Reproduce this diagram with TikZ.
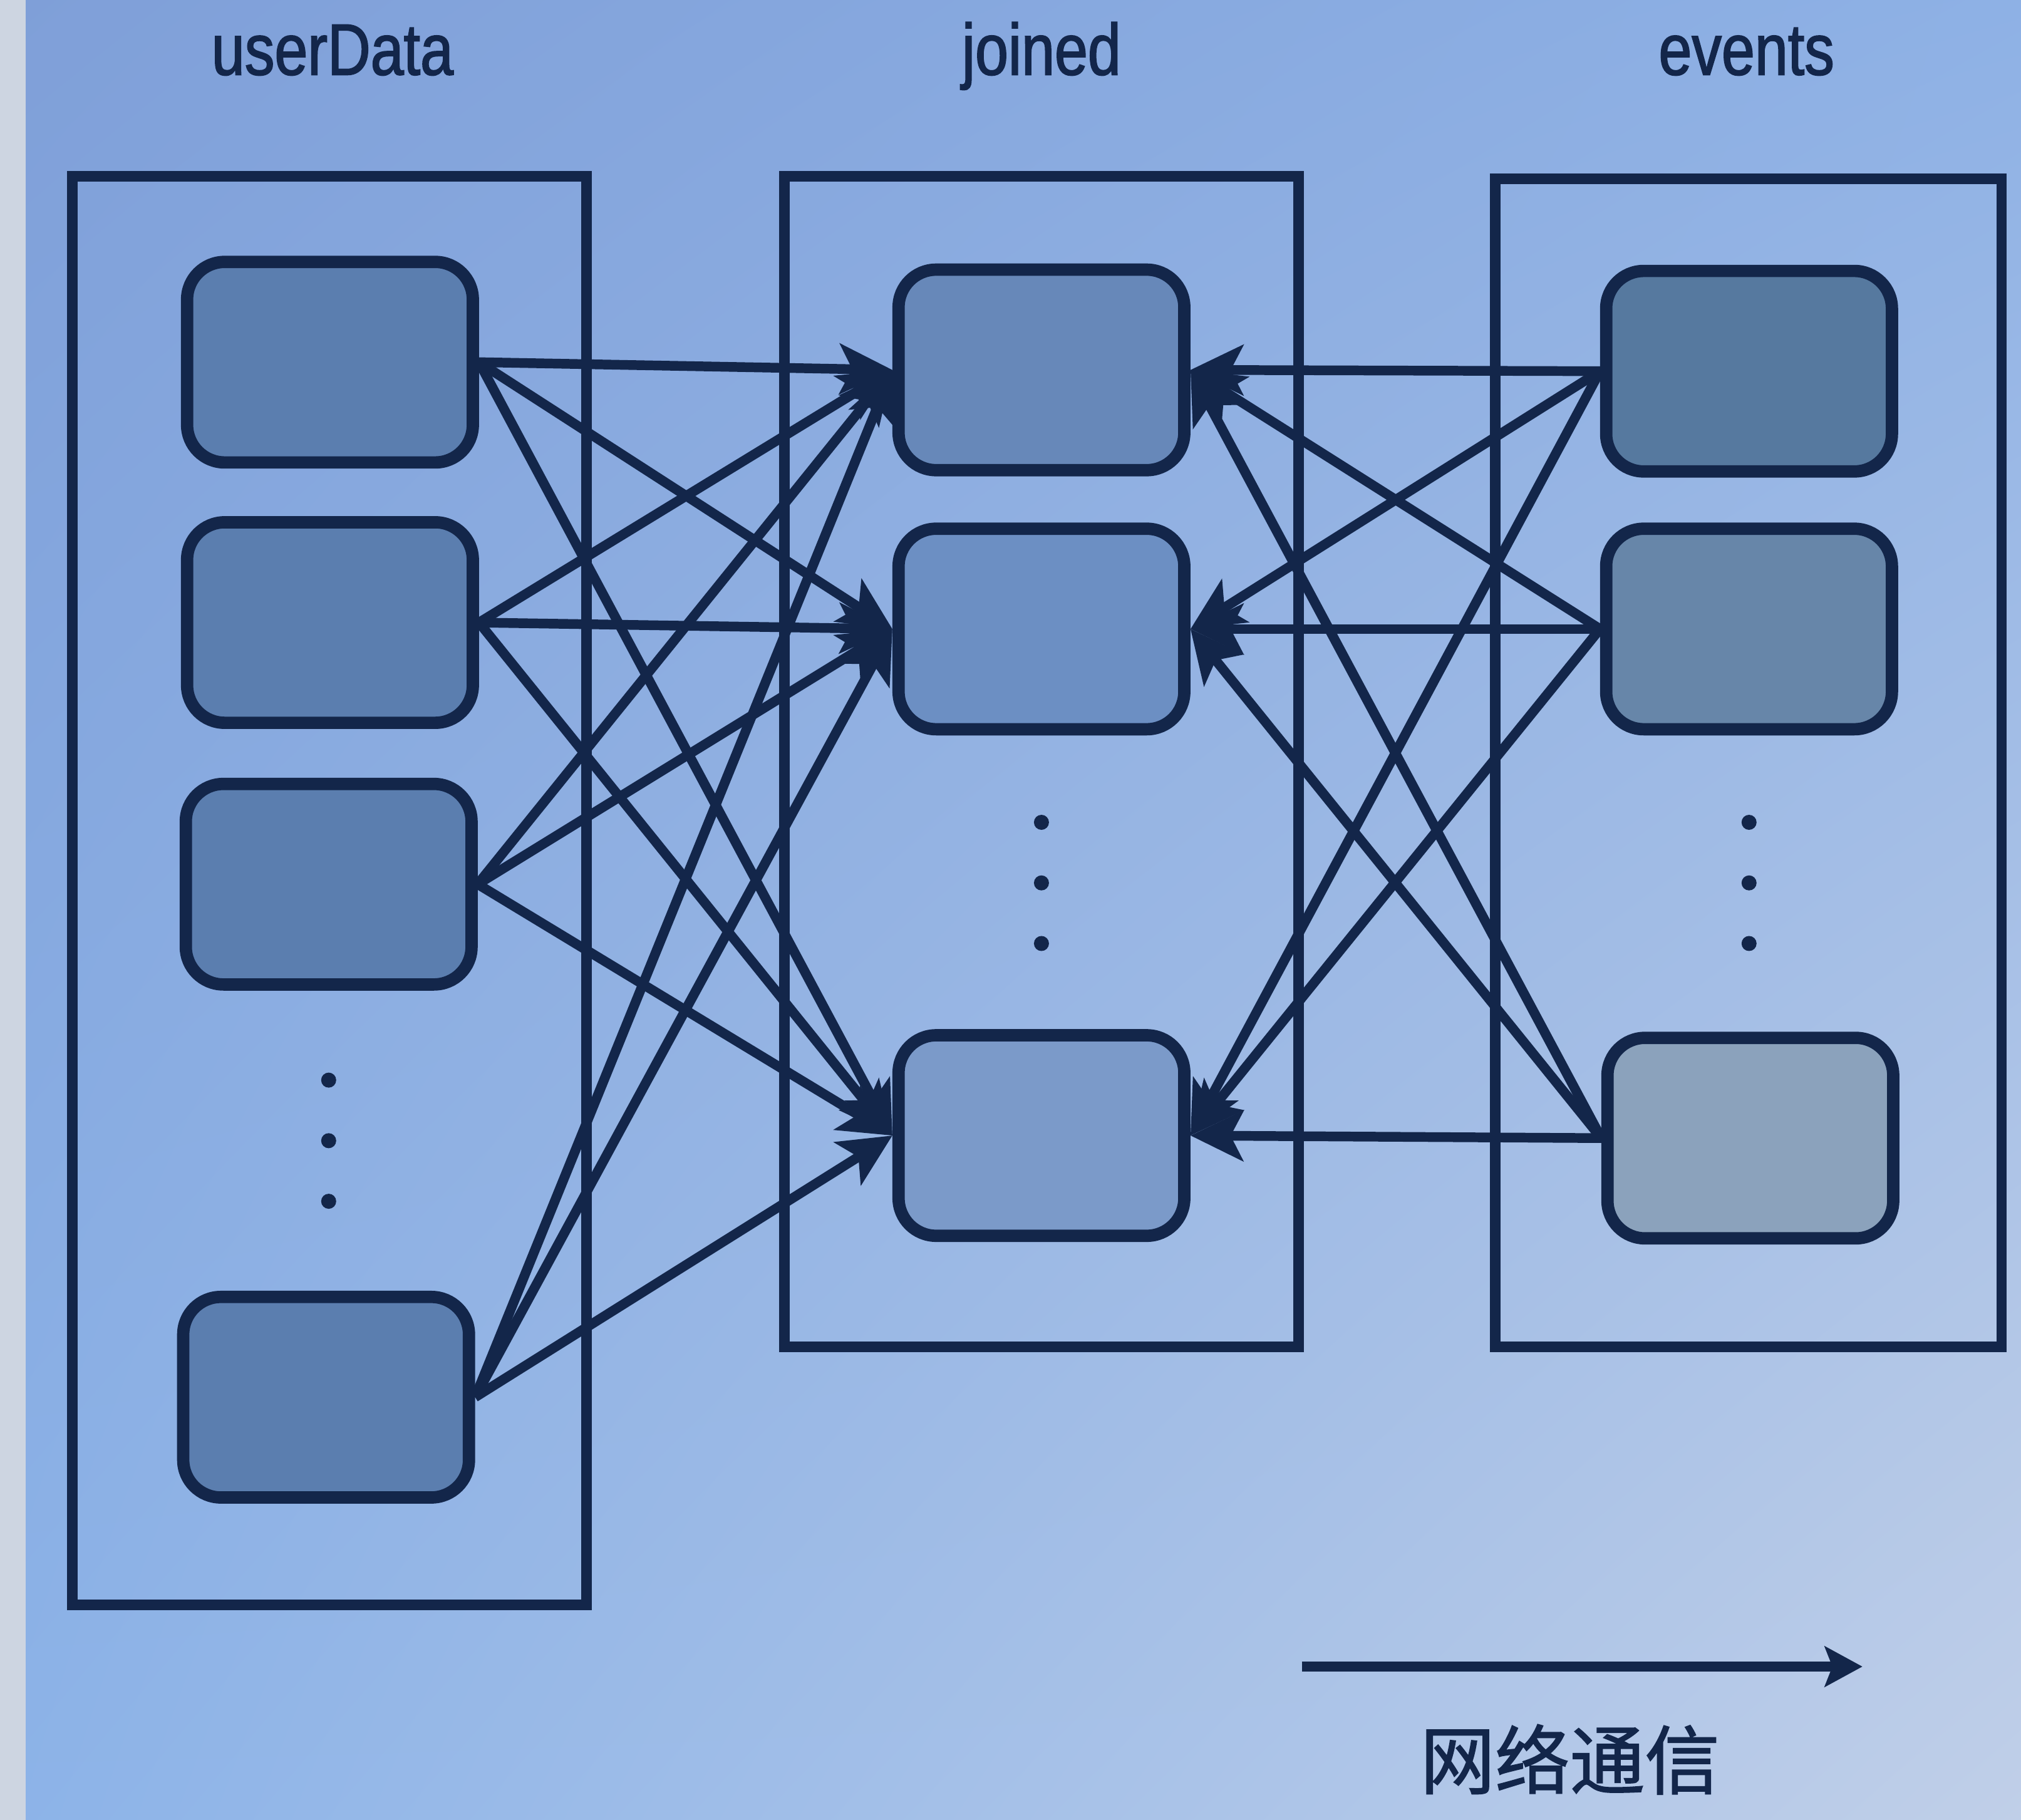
\documentclass[tikz,border=0pt]{standalone}
\usepackage{fontspec}
\setmainfont{Liberation Sans}
\newfontfamily\labelfont[FakeStretch=0.82, FakeBold=1.6]{Liberation Sans}
\newfontfamily\cjk[FakeBold=1.4]{Noto Sans CJK SC}
\usetikzlibrary{arrows.meta,shadings}
\definecolor{navy}{HTML}{13264A}
\definecolor{bgtl}{HTML}{7F9FD8}
\definecolor{bgtr}{HTML}{8EB1E5}
\definecolor{bgbl}{HTML}{8CB3E8}
\definecolor{bgbr}{HTML}{C0CFE8}
\definecolor{strip}{HTML}{CDD5E1}
\definecolor{partblue}{HTML}{5B7EAF}
\definecolor{joinblue}{HTML}{6C8FC3}
\definecolor{eventblue}{HTML}{56799F}
\definecolor{eventgrey}{HTML}{8BA2BC}

\begin{document}
\begin{tikzpicture}[x=0.01029cm, y=-0.01029cm,
  col/.style={draw=navy, line width=2.4pt, minimum width=4.1cm},
  part/.style={draw=navy, line width=2.8pt, rounded corners=0.3cm, minimum width=2.28cm, minimum height=1.6cm, fill=partblue},
  link/.style={navy, line width=2.2pt, -{Stealth[length=0.42cm, width=0.4cm, inset=0.1cm]}},
  title/.style={text=navy, font=\labelfont\fontsize{16.5}{18}\selectfont, anchor=base}]
\useasboundingbox (0,0) rectangle (1568,1412);
\shade[upper left=bgtl, upper right=bgtr, lower left=bgbl, lower right=bgbr] (0,0) rectangle (1568,1412);
\fill[strip] (0,0) rectangle (20,1412);
\node[title] (tu) at (258,58) {userData};
\node[title] (tj) at (808,58) {joined};
\node[title] (te) at (1355,58) {events};
\node[col, minimum height=11.4cm] (ucol) at (255.5,691) {};
\node[col, minimum height=9.34cm] (jcol) at (808,591) {};
\node[col, minimum width=4.04cm, minimum height=9.32cm] (ecol) at (1356.5,592) {};
\node[part] (u1) at (256,281) {};
\node[part] (u2) at (256,483) {};
\node[part] (u3) at (255,686) {};
\node[part] (u4) at (253,1084) {};
\node[part, fill=joinblue!95!black] (j1) at (808,287) {};
\node[part, fill=joinblue] (j2) at (808,488) {};
\node[part, fill=joinblue!90!white] (j3) at (808,881) {};
\node[part, fill=eventblue] (e1) at (1357,288) {};
\node[part, fill=eventblue!90!white] (e2) at (1357,488) {};
\node[part, fill=eventgrey] (e3) at (1358,883) {};
\foreach \y in {838,885,932} \fill[navy] (255,\y) circle (0.06cm);
\foreach \y in {638,685,732} {
  \fill[navy] (808,\y) circle (0.06cm);
  \fill[navy] (1357,\y) circle (0.06cm);
}
\foreach \u in {u1,u2,u3,u4}
  \foreach \j in {j1,j2,j3}
    \draw[link] (\u.east) -- (\j.west);
\foreach \e in {e1,e2,e3}
  \foreach \j in {j1,j2,j3}
    \draw[link] (\e.west) -- (\j.east);
\coordinate (netfrom) at (1010,1293);
\coordinate (netto) at (1445,1293);
\draw[navy, line width=2.4pt, -{Stealth[length=0.3cm, width=0.32cm, inset=0.06cm]}] (netfrom) -- (netto);
\node[text=navy, font=\cjk\fontsize{17}{20}\selectfont] (net) at (1218,1365) {网络通信};
\end{tikzpicture}
\end{document}
